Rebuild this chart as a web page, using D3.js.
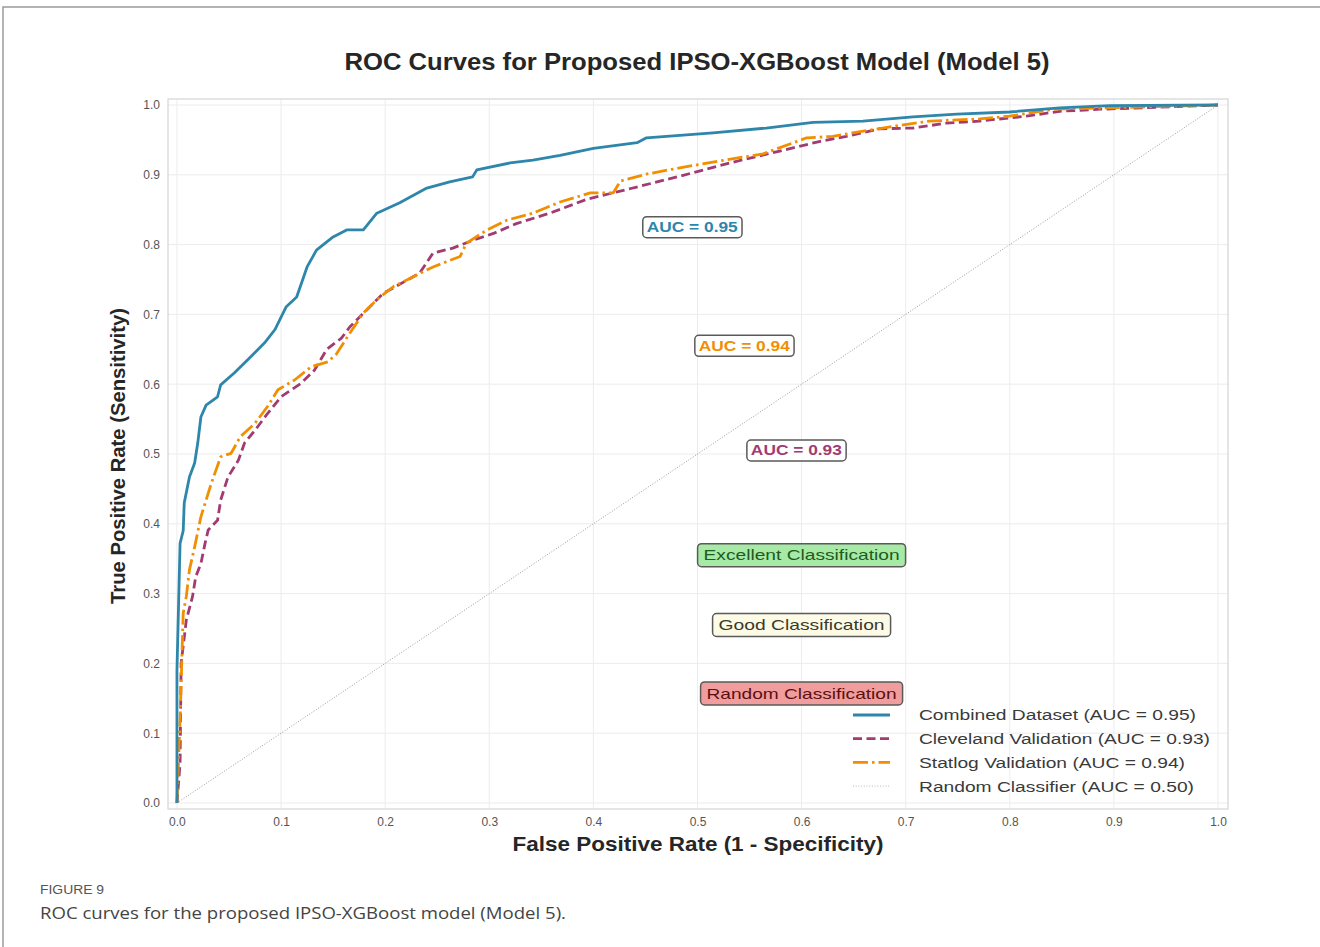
<!DOCTYPE html>
<html>
<head>
<meta charset="utf-8">
<script src="https://cdn.jsdelivr.net/npm/d3@7"></script>
<style>
  body { margin: 0; background: #fff; }
  text { font-family: "Liberation Sans", Arial, sans-serif; }
</style>
</head>
<body>
<div id="chart"></div>
<script>
// ROC points: [false positive rate, true positive rate]
var combinedFpr = [0, 0, 0.003, 0.006, 0.007, 0.012, 0.017, 0.02, 0.023, 0.028, 0.039, 0.042, 0.055, 0.068, 0.084, 0.094, 0.105, 0.115, 0.125, 0.134, 0.150, 0.163, 0.179, 0.192, 0.214, 0.240, 0.262, 0.284, 0.288, 0.320, 0.342, 0.368, 0.40, 0.442, 0.451, 0.515, 0.566, 0.611, 0.659, 0.707, 0.749, 0.80, 0.848, 0.896, 1.0];
var combinedTpr = [0, 0.19, 0.372, 0.39, 0.43, 0.467, 0.487, 0.516, 0.553, 0.57, 0.582, 0.599, 0.616, 0.635, 0.659, 0.678, 0.711, 0.725, 0.768, 0.792, 0.811, 0.821, 0.821, 0.845, 0.86, 0.881, 0.89, 0.897, 0.907, 0.917, 0.921, 0.928, 0.938, 0.946, 0.953, 0.960, 0.967, 0.975, 0.977, 0.983, 0.987, 0.99, 0.996, 0.999, 1.0];

var clevelandFpr = [0, 0.003, 0.004, 0.009, 0.015, 0.018, 0.023, 0.027, 0.030, 0.039, 0.042, 0.049, 0.059, 0.065, 0.075, 0.087, 0.100, 0.119, 0.132, 0.144, 0.158, 0.166, 0.182, 0.198, 0.221, 0.233, 0.246, 0.265, 0.284, 0.304, 0.326, 0.358, 0.394, 0.435, 0.483, 0.531, 0.579, 0.618, 0.643, 0.675, 0.707, 0.739, 0.771, 0.816, 0.848, 0.887, 0.928, 1.0];
var clevelandTpr = [0, 0.057, 0.2, 0.262, 0.296, 0.324, 0.343, 0.372, 0.391, 0.405, 0.434, 0.467, 0.491, 0.516, 0.534, 0.558, 0.582, 0.601, 0.62, 0.65, 0.666, 0.682, 0.706, 0.73, 0.749, 0.759, 0.788, 0.795, 0.806, 0.816, 0.830, 0.845, 0.865, 0.880, 0.898, 0.917, 0.934, 0.948, 0.955, 0.966, 0.967, 0.974, 0.977, 0.984, 0.991, 0.994, 0.996, 1.0];

var statlogFpr = [0, 0.003, 0.006, 0.009, 0.012, 0.017, 0.023, 0.033, 0.042, 0.052, 0.061, 0.075, 0.087, 0.097, 0.113, 0.129, 0.145, 0.153, 0.166, 0.179, 0.192, 0.208, 0.227, 0.246, 0.272, 0.278, 0.298, 0.317, 0.342, 0.368, 0.397, 0.419, 0.426, 0.451, 0.483, 0.522, 0.563, 0.605, 0.63, 0.649, 0.691, 0.723, 0.771, 0.80, 0.842, 0.896, 1.0];
var statlogTpr = [0, 0.12, 0.272, 0.296, 0.334, 0.367, 0.41, 0.458, 0.496, 0.501, 0.525, 0.544, 0.568, 0.592, 0.606, 0.625, 0.632, 0.643, 0.673, 0.702, 0.721, 0.740, 0.754, 0.768, 0.783, 0.802, 0.821, 0.835, 0.845, 0.861, 0.874, 0.874, 0.891, 0.901, 0.910, 0.920, 0.93, 0.953, 0.955, 0.960, 0.970, 0.977, 0.98, 0.984, 0.994, 0.996, 1.0];

var randomFpr = [0, 1];
var randomTpr = [0, 1];

var seriesNames = ["Combined Dataset (AUC = 0.95)", "Cleveland Validation (AUC = 0.93)", "Statlog Validation (AUC = 0.94)", "Random Classifier (AUC = 0.50)"];
var aucLabels = ["AUC = 0.95", "AUC = 0.94", "AUC = 0.93"];
var aucLabelX = [0.495, 0.545, 0.595];
var aucLabelY = [0.825, 0.655, 0.505];
var zoneLabels = ["Excellent Classification", "Good Classification", "Random Classification"];
var zoneLabelX = [0.60, 0.60, 0.60];
var zoneLabelY = [0.355, 0.255, 0.157];
var tickValues = [0, 0.1, 0.2, 0.3, 0.4, 0.5, 0.6, 0.7, 0.8, 0.9, 1.0];

// Set up chart
var svgWidth = 1320;
var svgHeight = 947;
var plot = {left: 168, right: 1228, top: 99, bottom: 809};

var svg = d3.select('#chart')
  .append('svg')
  .attr('width', svgWidth)
  .attr('height', svgHeight);

// page frame
svg.append('path')
  .attr('d', 'M3,' + svgHeight + ' L3,7 L' + svgWidth + ',7')
  .attr('fill', 'none')
  .attr('stroke', '#9a9a9a')
  .attr('stroke-width', 1.5);

var xScale = d3.scaleLinear().domain([-0.0086, 1.0096]).range([plot.left, plot.right]);
var yScale = d3.scaleLinear().domain([-0.0086, 1.0086]).range([plot.bottom, plot.top]);

// gridlines
var grid = svg.append('g');
grid.selectAll('.vg').data(tickValues).enter().append('line')
  .attr('x1', d => xScale(d)).attr('x2', d => xScale(d))
  .attr('y1', plot.top).attr('y2', plot.bottom)
  .attr('stroke', '#ececec').attr('stroke-width', 1);
grid.selectAll('.hg').data(tickValues).enter().append('line')
  .attr('y1', d => yScale(d)).attr('y2', d => yScale(d))
  .attr('x1', plot.left).attr('x2', plot.right)
  .attr('stroke', '#ececec').attr('stroke-width', 1);

// plot border
svg.append('rect')
  .attr('x', plot.left).attr('y', plot.top)
  .attr('width', plot.right - plot.left).attr('height', plot.bottom - plot.top)
  .attr('fill', 'none').attr('stroke', '#d4d4d4').attr('stroke-width', 1.2);

// axes (labels only, seaborn style)
var bottomAxis = d3.axisBottom(xScale).tickValues(tickValues).tickFormat(d3.format('.1f')).tickSize(0).tickPadding(8);
var leftAxis = d3.axisLeft(yScale).tickValues(tickValues).tickFormat(d3.format('.1f')).tickSize(0).tickPadding(8);

var xAxisG = svg.append('g').attr('transform', `translate(0, ${plot.bottom})`).call(bottomAxis);
var yAxisG = svg.append('g').attr('transform', `translate(${plot.left}, 0)`).call(leftAxis);
[xAxisG, yAxisG].forEach(function(g) {
  g.select('.domain').remove();
  g.selectAll('text')
    .attr('fill', '#555')
    .style('font-size', '12px')
    .style('font-family', '"Liberation Sans", Arial, sans-serif');
});

// curves
var line = d3.line().x(d => xScale(d[0])).y(d => yScale(d[1]));
function zipPts(xs, ys) { return xs.map((x, i) => [x, ys[i]]); }

var series = [
  {pts: zipPts(randomFpr, randomTpr), color: '#9b9b9b', width: 1, dash: '1,1.7'},
  {pts: zipPts(clevelandFpr, clevelandTpr), color: '#A23B72', width: 2.8, dash: '9,4.5'},
  {pts: zipPts(statlogFpr, statlogTpr), color: '#F18F01', width: 2.8, dash: '15,4,2.5,4'},
  {pts: zipPts(combinedFpr, combinedTpr), color: '#2E86AB', width: 2.8, dash: null}
];
series.forEach(function(s) {
  svg.append('path')
    .datum(s.pts)
    .attr('d', line)
    .attr('fill', 'none')
    .attr('stroke', s.color)
    .attr('stroke-width', s.width)
    .attr('stroke-dasharray', s.dash)
    .attr('stroke-linejoin', 'round');
});

// boxed annotations
function boxLabel(txt, cx, cy, opts) {
  var g = svg.append('g');
  var t = g.append('text')
    .attr('x', xScale(cx)).attr('y', yScale(cy))
    .attr('text-anchor', 'middle').attr('dy', '0.35em')
    .style('font-size', opts.size + 'px')
    .style('font-weight', opts.bold ? 'bold' : 'normal')
    .attr('fill', opts.color)
    .text(txt);
  if (opts.len) t.attr('textLength', opts.len).attr('lengthAdjust', 'spacingAndGlyphs');
  var bb = t.node().getBBox();
  g.insert('rect', 'text')
    .attr('x', bb.x - opts.padX).attr('y', yScale(cy) - opts.h / 2)
    .attr('width', bb.width + 2 * opts.padX).attr('height', opts.h)
    .attr('rx', 4).attr('ry', 4)
    .attr('fill', opts.fill)
    .attr('stroke', '#5a5a5a').attr('stroke-width', 1.5);
}
var aucColors = ['#2E86AB', '#F18F01', '#A23B72'];
aucLabels.forEach(function(txt, i) {
  boxLabel(txt, aucLabelX[i], aucLabelY[i], {size: 14, bold: true, color: aucColors[i], fill: '#fff', padX: 4, h: 21, len: 91});
});
var zoneFills = ['#a6eaa6', '#fdfbe6', '#f29d9d'];
var zoneText = ['#1f5a1f', '#3a3a2a', '#5a1010'];
var zoneLens = [196, 166, 190];
zoneLabels.forEach(function(txt, i) {
  boxLabel(txt, zoneLabelX[i], zoneLabelY[i], {size: 15, bold: false, color: zoneText[i], fill: zoneFills[i], padX: 6, h: 23, len: zoneLens[i]});
});

// legend
var legendColors = ['#2E86AB', '#A23B72', '#F18F01', '#b8b8b8'];
var legendDash = [null, '9,4.5', '15,4,2.5,4', '1,1.7'];
var legendWidths = [2.8, 2.8, 2.8, 1];
var legendLens = [277, 291, 266, 275];
var legend = svg.append('g').attr('transform', 'translate(853, 715)');
seriesNames.forEach(function(name, i) {
  var row = legend.append('g').attr('transform', `translate(0, ${i * 23.7})`);
  row.append('line')
    .attr('x1', 0).attr('x2', 37).attr('y1', 0).attr('y2', 0)
    .attr('stroke', legendColors[i]).attr('stroke-width', legendWidths[i])
    .attr('stroke-dasharray', legendDash[i]);
  row.append('text')
    .attr('x', 66).attr('y', 0).attr('dy', '0.35em')
    .style('font-size', '15.5px').attr('fill', '#3a3a3a')
    .attr('textLength', legendLens[i]).attr('lengthAdjust', 'spacingAndGlyphs')
    .text(name);
});

// title and axis labels
svg.append('text')
  .attr('x', 697).attr('y', 62).attr('dy', '0.35em')
  .attr('text-anchor', 'middle')
  .style('font-size', '23px').style('font-weight', 'bold').attr('fill', '#262626')
  .attr('textLength', 705).attr('lengthAdjust', 'spacingAndGlyphs')
  .text('ROC Curves for Proposed IPSO-XGBoost Model (Model 5)');

svg.append('text')
  .attr('x', 698).attr('y', 844).attr('dy', '0.35em')
  .attr('text-anchor', 'middle')
  .style('font-size', '21px').style('font-weight', 'bold').attr('fill', '#262626')
  .attr('textLength', 371).attr('lengthAdjust', 'spacingAndGlyphs')
  .text('False Positive Rate (1 - Specificity)');

svg.append('text')
  .attr('transform', 'translate(118, 456) rotate(-90)')
  .attr('dy', '0.35em')
  .attr('text-anchor', 'middle')
  .style('font-size', '21px').style('font-weight', 'bold').attr('fill', '#262626')
  .attr('textLength', 296).attr('lengthAdjust', 'spacingAndGlyphs')
  .text('True Positive Rate (Sensitivity)');

// caption
svg.append('text')
  .attr('x', 40).attr('y', 894)
  .style('font-size', '12px').attr('fill', '#555')
  .attr('textLength', 64).attr('lengthAdjust', 'spacingAndGlyphs')
  .text('FIGURE 9');
svg.append('text')
  .attr('x', 40).attr('y', 919)
  .style('font-size', '17px').attr('fill', '#444')
  .style('font-family', '"Open Sans", sans-serif')
  .attr('textLength', 526).attr('lengthAdjust', 'spacingAndGlyphs')
  .text('ROC curves for the proposed IPSO-XGBoost model (Model 5).');
</script>
</body>
</html>
